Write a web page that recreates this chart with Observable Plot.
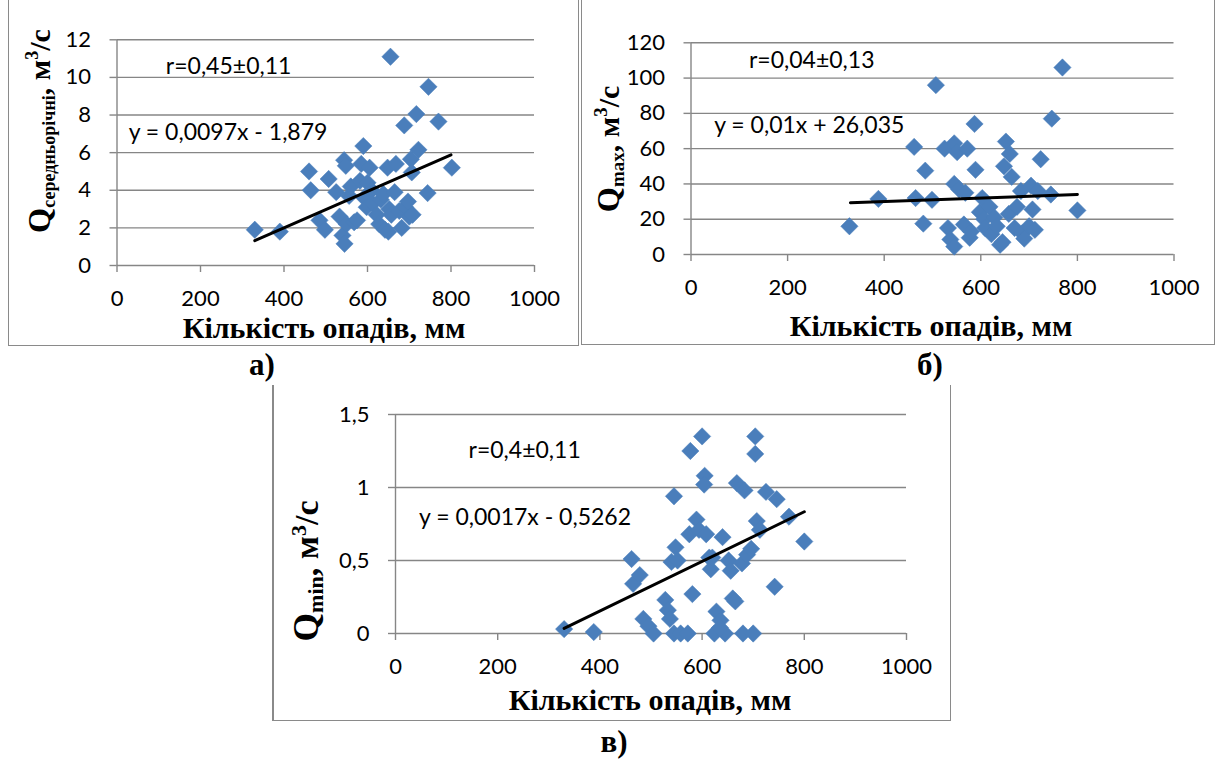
<!DOCTYPE html>
<html><head><meta charset="utf-8">
<script src="https://cdn.jsdelivr.net/npm/d3@7"></script>
<script src="https://cdn.jsdelivr.net/npm/@observablehq/plot@0.6"></script>
<style>
html,body{margin:0;padding:0;background:#fff;}
#root{position:relative;width:1216px;height:760px;overflow:hidden;background:#fff;}
.panel{position:absolute;}
.bl{position:absolute;background:#8a8a8a;}
svg.overlay{position:absolute;left:0;top:0;pointer-events:none;}
</style></head><body><div id="root"></div>
<script>
// ---- data ----
const xTicks = [0, 200, 400, 600, 800, 1000];

// a) mean annual discharge
const precipA = [330,390,460,464,485,498,507,525,533,540,545,544,548,550,556,560,568,575,582,585,590,592,598,600,605,610,612,622,628,632,638,642,648,650,652,655,657,665,668,676,682,688,690,697,700,704,706,708,717,722,744,746,770,802];
const qMean   = [1.9,1.8,5.0,4.0,2.4,1.9,4.6,3.9,2.6,1.6,1.15,5.6,5.3,2.2,3.7,4.2,2.3,2.4,4.5,5.4,6.35,3.6,3.1,4.4,5.2,4.0,3.3,2.7,2.2,3.5,3.8,1.9,5.2,1.8,3.0,11.1,2.7,3.9,5.4,2.9,2.0,7.45,3.1,3.4,2.6,5.65,4.95,2.7,8.05,6.15,3.85,9.5,7.65,5.2];
const yTicksA = [0, 2, 4, 6, 8, 10, 12];

// б) maximum discharge
const precipB = [328,388,462,465,481,485,499,507,525,532,537,545,545,545,551,555,565,568,572,577,580,587,589,598,603,607,609,618,622,628,633,640,645,648,652,660,658,664,670,675,683,686,690,700,704,707,712,718,724,745,747,769,800];
const qMax    = [16,31.5,61,32,17.5,47.5,31,96,60,15,8.5,4.5,40,63,58,37,17,35,60,9.5,13,74,48,24,32,20,15,27,11.5,21,16,5.5,7,50,64,57,23,44,15,27,36,12,9,16,39,25.5,14,36,54,34,77,106,25];
const yTicksB = [0, 20, 40, 60, 80, 100, 120];

// в) minimum discharge
const precipC = [330,388,462,465,478,485,495,505,528,533,537,540,545,548,552,545,558,572,577,581,575,589,594,600,605,604,608,614,617,624,628,636,640,645,652,656,660,665,668,680,683,678,688,696,704,704,700,707,713,725,746,742,770,800,635,620];
const qMin    = [0.03,0.01,0.51,0.34,0.40,0.10,0.05,0.0,0.23,0.16,0.10,0.49,0.94,0.59,0.50,0.0,0.0,0.0,1.25,0.27,0.68,0.78,0.71,1.35,1.08,1.02,0.68,0.52,0.44,0.0,0.15,0.09,0.66,0.0,0.50,0.43,0.24,0.22,1.03,0.0,0.98,0.48,0.54,0.58,1.35,1.23,0.0,0.77,0.71,0.97,0.92,0.32,0.80,0.63,0.04,0.52];
const yTicksC = [0, 0.5, 1, 1.5];

// trend lines (from the equations on the chart)
const trendRange = [330, 800];
const slopes = [0.0097, 0.01, 0.0017];
const intercepts = [-1.879, 26.035, -0.5262];
const rLabels = ["r=0,45±0,11", "r=0,04±0,13", "r=0,4±0,11"];
const eqLabels = ["y = 0,0097x - 1,879", "y = 0,01x + 26,035", "y = 0,0017x - 0,5262"];
const xTitle = "Кількість опадів, мм";
const panelLetters = ["а)", "б)", "в)"];

// ---- drawing ----
const root = document.getElementById("root");
const GRID = "#868686", BLUE = "#4a7ebb";
const fmt = d => String(d).replace(".", ",");

function panel(i, xs, ys, yDomain, yTicks, box, ann) {
  const pts = xs.map((x, k) => ({x, y: ys[k]}));
  const trend = trendRange.map(x => ({x, y: slopes[i] * x + intercepts[i]}));
  const p = Plot.plot({
    width: box.w, height: box.h,
    marginLeft: box.ml, marginRight: box.mr, marginTop: box.mt, marginBottom: box.mb,
    style: {fontFamily: "Lato, 'Open Sans', sans-serif", fontSize: "22px", background: "transparent", color: "#000", overflow: "visible"},
    x: {domain: [0, 1000]},
    y: {domain: yDomain},
    marks: [
      Plot.gridY(yTicks, {stroke: GRID, strokeOpacity: 1, strokeWidth: 1.4}),
      Plot.ruleX([0], {stroke: GRID, strokeWidth: 1.4}),
      Plot.axisX(xTicks, {tickSize: 7, tickPadding: 18, stroke: GRID, strokeWidth: 1.4, fill: "#000", fontSize: 22, label: null, tickFormat: d => String(d)}),
      Plot.axisY(yTicks, {tickSize: 7, tickPadding: 19, stroke: GRID, strokeWidth: 1.4, fill: "#000", fontSize: 22, label: null, tickFormat: fmt}),
      Plot.dot(pts, {x: "x", y: "y", symbol: "diamond2", r: 7.8, fill: BLUE, stroke: BLUE, strokeWidth: 0.5}),
      Plot.line(trend, {x: "x", y: "y", stroke: "#000", strokeWidth: 3}),
      Plot.text([{x: ann.rx, y: ann.ry, t: rLabels[i]}, {x: ann.ex, y: ann.ey, t: eqLabels[i]}],
        {x: "x", y: "y", text: "t", textAnchor: "start", fontSize: 23, fill: "#000"})
    ]
  });
  p.classList.add("panel");
  p.style.left = box.left + "px";
  p.style.top = box.top + "px";
  root.appendChild(p);
}

panel(0, precipA, qMean, [0, 12], yTicksA,
  {left: 8, top: 0, w: 569, h: 345, ml: 108.5, mr: 43, mt: 39.3, mb: 80},
  {rx: 117, ry: 10.55, ex: 28, ey: 7.09});
panel(1, precipB, qMax, [0, 120], yTicksB,
  {left: 582, top: 0, w: 634, h: 345, ml: 108.5, mr: 42.5, mt: 42.3, mb: 91},
  {rx: 120, ry: 109.8, ex: 48, ey: 73});
panel(2, precipC, qMin, [0, 1.5], yTicksC,
  {left: 272, top: 347, w: 678, h: 373, ml: 123, mr: 44, mt: 67, mb: 87},
  {rx: 143, ry: 1.253, ex: 46, ey: 0.797});

// panel frames
function line(x, y, w, h) {
  const d = document.createElement("div");
  d.className = "bl";
  Object.assign(d.style, {left: x + "px", top: y + "px", width: w + "px", height: h + "px"});
  root.appendChild(d);
}
line(7.5, -2, 1.5, 347.5); line(577.5, -2, 1.5, 347.5); line(7.5, 344.5, 571.5, 1.5);
line(580.8, -2, 1.5, 347); line(1213.5, -2, 1.5, 347); line(580.8, 343.8, 634, 1.5);
line(272, 385, 1.5, 336); line(949.5, 385, 1.5, 336); line(272, 719.5, 679, 1.5);

// titles overlay
const svg = d3.select(root).append("svg").attr("class", "overlay")
  .attr("width", 1216).attr("height", 760);
const serif = "'Liberation Serif', 'Times New Roman', serif";

const xt = [[324, 338], [931, 336], [650, 710]];
xt.forEach(([x, y]) => svg.append("text").attr("x", x).attr("y", y)
  .attr("text-anchor", "middle").attr("font-family", serif).attr("font-weight", "bold")
  .attr("font-size", 30).text(xTitle));

const lettersPos = [[262, 375], [930, 375], [614, 752]];
lettersPos.forEach(([x, y], k) => svg.append("text").attr("x", x).attr("y", y)
  .attr("text-anchor", "middle").attr("font-family", serif).attr("font-weight", "bold")
  .attr("font-size", 31).text(panelLetters[k]));

function yTitle(cx, cy, sub, main, subSize) {
  const t = svg.append("text").attr("transform", `translate(${cx},${cy}) rotate(-90)`)
    .attr("text-anchor", "middle").attr("font-family", serif).attr("font-weight", "bold")
    .attr("font-size", main);
  t.append("tspan").attr("font-size", main * 1.08).text("Q");
  t.append("tspan").attr("font-size", subSize).attr("dy", 5).text(sub);
  t.append("tspan").attr("dy", -5).text(", м");
  t.append("tspan").attr("font-size", subSize).attr("dy", -12).text("3");
  t.append("tspan").attr("dy", 12).text("/с");
}
yTitle(50, 131, "середньорічні", 30, 18);
yTitle(619, 149, "max", 30, 19);
yTitle(318, 571, "min", 34, 22);
</script></body></html>
